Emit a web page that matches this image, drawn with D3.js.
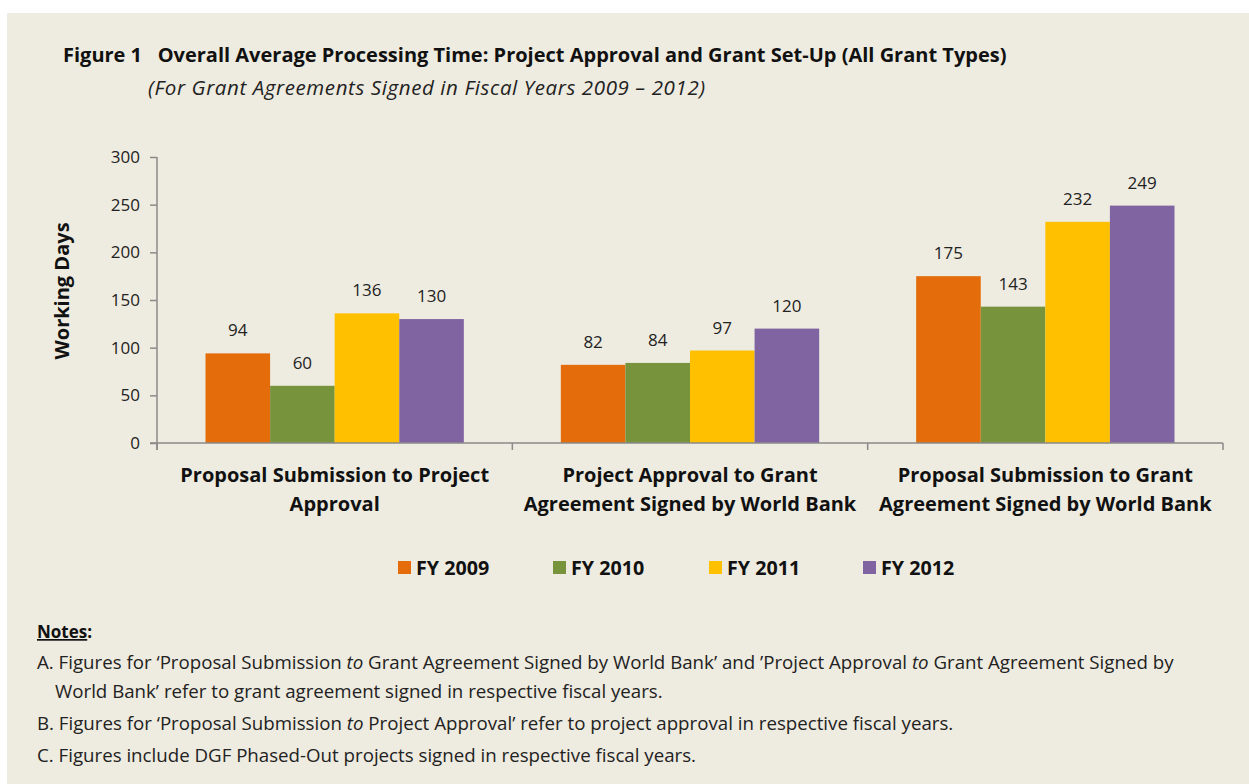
<!DOCTYPE html>
<html>
<head>
<meta charset="utf-8">
<script src="https://cdn.jsdelivr.net/npm/d3@7"></script>
<style>
  body { margin: 0; background: #fff; }
  svg text { font-family: "Open Sans", Lato, sans-serif; }
</style>
</head>
<body>
<div id="wrapper"></div>
<script>
// DATA
const categories = [
  ["Proposal Submission to Project", "Approval"],
  ["Project Approval to Grant", "Agreement Signed by World Bank"],
  ["Proposal Submission to Grant", "Agreement Signed by World Bank"]
]
const seriesNames = ["FY 2009", "FY 2010", "FY 2011", "FY 2012"]
const fy2009 = [94, 82, 175]
const fy2010 = [60, 84, 143]
const fy2011 = [136, 97, 232]
const fy2012 = [130, 120, 249]
const yTicks = [0, 50, 100, 150, 200, 250, 300]
const colors = ["#E46C0A", "#77933C", "#FFC000", "#8064A2"]

const notes = [
  [["A. Figures for ‘Proposal Submission ", false], ["to", true], [" Grant Agreement Signed by World Bank’ and ’Project Approval ", false], ["to", true], [" Grant Agreement Signed by", false]],
  [["World Bank’ refer to grant agreement signed in respective fiscal years.", false]],
  [["B. Figures for ‘Proposal Submission ", false], ["to", true], [" Project Approval’ refer to project approval in respective fiscal years.", false]],
  [["C. Figures include DGF Phased-Out projects signed in respective fiscal years.", false]]
]

async function drawChart() {
  const width = 1249
  const height = 784

  const svg = d3.select('#wrapper')
    .append('svg')
    .attr('width', width)
    .attr('height', height)

  // beige panel
  svg.append('rect')
    .attr('x', 7).attr('y', 13)
    .attr('width', width - 7).attr('height', height - 13)
    .attr('fill', '#EEEBE0')

  // title
  svg.append('text')
    .attr('x', 63).attr('y', 62)
    .attr('font-size', 20).attr('font-weight', 'bold')
    .attr('fill', '#111')
    .attr('xml:space', 'preserve')
    .text('Figure 1   Overall Average Processing Time: Project Approval and Grant Set-Up (All Grant Types)')

  svg.append('text')
    .attr('x', 148).attr('y', 95)
    .attr('font-size', 20.5).attr('font-style', 'italic')
    .attr('letter-spacing', 0.6)
    .attr('fill', '#222')
    .text('(For Grant Agreements Signed in Fiscal Years 2009 – 2012)')

  // SCALES
  const x0 = d3.scaleBand()
    .domain(d3.range(categories.length))
    .range([157, 1223])
    .paddingInner(0.273)
    .paddingOuter(0.1365)

  const x1 = d3.scaleBand()
    .domain(d3.range(seriesNames.length))
    .range([0, x0.bandwidth()])

  const y = d3.scaleLinear()
    .domain([0, 300])
    .range([443, 157])

  const axisColor = '#8a8a8a'

  // y axis
  const yAxis = svg.append('g')
    .attr('transform', 'translate(157,0)')
    .call(d3.axisLeft(y).tickValues(yTicks).tickSize(7).tickPadding(10))
  yAxis.select('.domain').attr('stroke', axisColor).attr('stroke-width', 1.5)
    .attr('d', `M0,${y(300)}V${y(0) + 7}`)
  yAxis.selectAll('.tick line').attr('stroke', axisColor).attr('stroke-width', 1.5)
  yAxis.selectAll('.tick text')
    .attr('font-size', 17).attr('fill', '#222')
    .style('font-family', '"Open Sans", sans-serif')

  svg.append('text')
    .attr('transform', `translate(69,${y(150) - 9}) rotate(-90)`)
    .attr('text-anchor', 'middle')
    .attr('font-size', 20).attr('font-weight', 'bold')
    .attr('fill', '#111')
    .text('Working Days')

  // BARS
  const seriesValues = [fy2009, fy2010, fy2011, fy2012]
  const groups = svg.selectAll('.group')
    .data(categories)
    .enter().append('g')
    .attr('class', 'group')
    .attr('transform', (d, i) => `translate(${x0(i)},0)`)

  groups.each(function(c, ci) {
    const g = d3.select(this)
    seriesValues.forEach((vals, si) => {
      g.append('rect')
        .attr('x', x1(si))
        .attr('y', y(vals[ci]))
        .attr('width', x1.bandwidth())
        .attr('height', y(0) - y(vals[ci]))
        .attr('fill', colors[si])
      g.append('text')
        .attr('x', x1(si) + x1.bandwidth() / 2)
        .attr('y', y(vals[ci]) - 17)
        .attr('text-anchor', 'middle')
        .attr('font-size', 17)
        .attr('fill', '#222')
        .text(vals[ci])
    })
  })

  // x axis
  const xEdges = [157, ...d3.range(1, categories.length).map(i => x0(i) - x0.step() * x0.paddingInner() / 2), 1223]
  svg.append('path')
    .attr('d', `M150,${y(0)}H1223`)
    .attr('stroke', axisColor).attr('stroke-width', 1.5).attr('fill', 'none')
  svg.selectAll('.xtick')
    .data(xEdges)
    .enter().append('line')
    .attr('x1', d => d).attr('x2', d => d)
    .attr('y1', y(0)).attr('y2', y(0) + 7)
    .attr('stroke', axisColor).attr('stroke-width', 1.5)

  // category labels
  categories.forEach((lines, i) => {
    const t = svg.append('text')
      .attr('x', x0(i) + x0.bandwidth() / 2)
      .attr('y', 482)
      .attr('text-anchor', 'middle')
      .attr('font-size', 20).attr('font-weight', 'bold')
      .attr('fill', '#111')
    lines.forEach((line, li) => {
      t.append('tspan')
        .attr('x', x0(i) + x0.bandwidth() / 2)
        .attr('dy', li === 0 ? 0 : 29)
        .text(line)
    })
  })

  // LEGEND
  const legendX = [398, 553, 709, 863]
  seriesNames.forEach((name, i) => {
    svg.append('rect')
      .attr('x', legendX[i]).attr('y', 561)
      .attr('width', 13).attr('height', 13)
      .attr('fill', colors[i])
    svg.append('text')
      .attr('x', legendX[i] + 18).attr('y', 575)
      .attr('font-size', 19.7).attr('font-weight', 'bold')
      .attr('fill', '#111')
      .text(name)
  })

  // NOTES
  const notesTitle = svg.append('text')
    .attr('x', 37).attr('y', 638)
    .attr('font-size', 17).attr('font-weight', 'bold')
    .attr('fill', '#111')
  notesTitle.append('tspan').attr('text-decoration', 'underline').text('Notes')
  notesTitle.append('tspan').text(':')

  const noteY = [669, 698, 730, 762]
  const noteX = [37, 55, 37, 37]
  notes.forEach((parts, i) => {
    const t = svg.append('text')
      .attr('x', noteX[i]).attr('y', noteY[i])
      .attr('font-size', 18.7)
      .attr('fill', '#222')
      .attr('xml:space', 'preserve')
    parts.forEach(([s, it]) => {
      t.append('tspan').attr('font-style', it ? 'italic' : 'normal').text(s)
    })
  })
}
drawChart()
</script>
</body>
</html>
